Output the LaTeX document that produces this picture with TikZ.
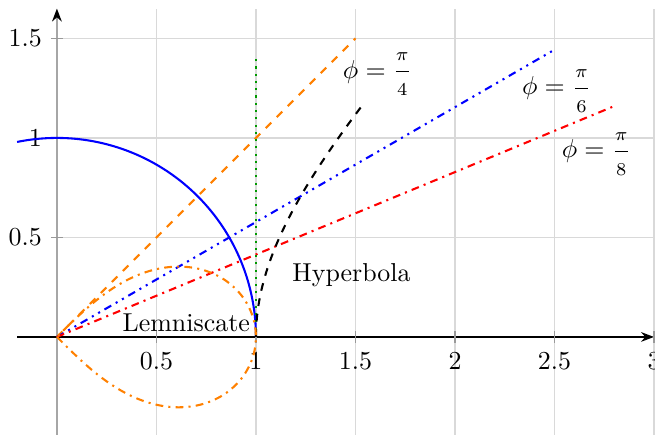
\documentclass[tikz,border=0pt]{standalone}
\usepackage{amsmath}
\usetikzlibrary{arrows.meta}
\newcommand{\angfrac}[2]{\dfrac{\scriptstyle #1}{\scriptstyle #2}}

\begin{document}
\begin{tikzpicture}[
  x=2.7cm, y=2.7cm,
  gridline/.style={gray!30,line width=0.5pt},
  tickmark/.style={gray!80,line width=0.5pt},
  curve/.style={thick},
  lbl/.style={inner sep=2pt}
]
\useasboundingbox (-0.286,-0.492) rectangle (3.005,1.693);
% grid
\foreach \x in {0.5,1,...,3}
  \draw[gridline] (\x,-0.5) -- (\x,1.65);
\foreach \y in {0.5,1,1.5}
  \draw[gridline] (0,\y) -- (3,\y);
% axes
\draw[-{Stealth[length=5pt,black]},gray!70,line width=0.8pt] (0,-0.5) -- (0,1.65);
\draw[-{Stealth[length=5pt]},line width=0.5pt] (-0.2,0) -- (3,0);
\foreach \x in {0.5,1,1.5,2,2.5,3} {
  \draw[tickmark] (\x,-0.03) -- (\x,0.03);
  \node[anchor=north] (xt\x) at (\x,-0.03) {\x};
}
\foreach \y in {0.5,1,1.5} {
  \draw[tickmark] (-0.03,\y) -- (0.03,\y);
  \node[anchor=east] (yt\y) at (-0.03,\y) {\y};
}
% curves
\draw[curve,blue] (101.54:1) arc[start angle=101.54,end angle=0,radius=1];
\draw[curve,orange,dashed] (0,0) -- (1.5,1.5);
\draw[curve,blue,dash dot dot] (0,0) -- (2.5,{2.5*tan(30)});
\draw[curve,red,dash dot] (0,0) -- (2.8,{2.8*tan(22.5)});
\draw[curve,green!60!black,dotted] (1,0) -- (1,1.4);
\draw[curve,dashed] plot[domain=0:1,samples=40] ({cosh(\x)},{sinh(\x)});
\draw[curve,orange,dash dot] plot[domain=-90:90,samples=90,smooth]
  ({cos(\x)/(1+sin(\x)^2)},{sin(\x)*cos(\x)/(1+sin(\x)^2)});
% labels
\node[lbl] (phifour)  at (1.61,1.32) {$\phi = \angfrac{\pi}{4}$};
\node[lbl] (phisix)   at (2.51,1.236) {$\phi = \angfrac{\pi}{6}$};
\node[lbl] (phieight) at (2.71,0.92) {$\phi = \angfrac{\pi}{8}$};
\node[lbl] (hyp) at (1.48,0.31) {Hyperbola};
\node[lbl] (lem) at (0.65,0.07) {Lemniscate};
\end{tikzpicture}
\end{document}
